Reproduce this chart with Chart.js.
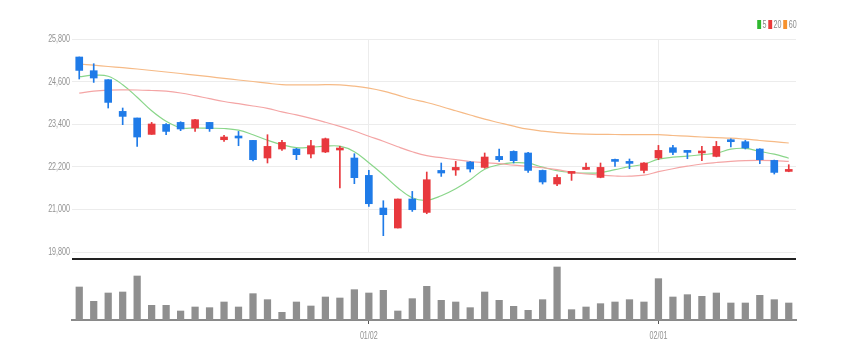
<!DOCTYPE html>
<html>
<head>
<meta charset="utf-8">
<script src="https://cdn.jsdelivr.net/npm/chart.js@4.4.1/dist/chart.umd.min.js"></script>
<style>
  body { margin: 0; background: #fff; }
  #wrap { position: relative; width: 846px; height: 360px; overflow: hidden; }
  #priceBox { position: absolute; left: 0; top: 0; width: 846px; height: 262px; }
  #volBox { position: absolute; left: 0; top: 256px; width: 846px; height: 104px; }
  #divider { position: absolute; left: 72px; top: 258px; width: 724px; height: 2px; background: #222; }
  #legend {
    position: absolute; right: 49px; top: 18px; white-space: nowrap;
    font: 11px 'Liberation Sans', sans-serif; color: #8a8a8a;
    transform: scaleX(0.65); transform-origin: right center;
  }
  #legend .sw { display: inline-block; width: 6px; height: 9px; margin: 0 2px 0 3px; vertical-align: -1px; }
</style>
</head>
<body>
<div id="wrap">
  <div id="priceBox"><canvas id="priceChart"></canvas></div>
  <div id="divider"></div>
  <div id="volBox"><canvas id="volChart"></canvas></div>
  <div id="legend"><span class="sw" style="background:#2fb82f"></span>5<span class="sw" style="background:#ea3a3a"></span>20<span class="sw" style="background:#f7922e"></span>60</div>
</div>
<script>
// trading days 2022-12-02 .. 2023-02-14
const labels = [
  "12/02", "12/05", "12/06", "12/07", "12/08", "12/09", "12/12", "12/13", "12/14", "12/15",
  "12/16", "12/19", "12/20", "12/21", "12/22", "12/23", "12/26", "12/27", "12/28", "12/29",
  "01/02", "01/03", "01/04", "01/05", "01/06", "01/09", "01/10", "01/11", "01/12", "01/13",
  "01/16", "01/17", "01/18", "01/19", "01/20", "01/25", "01/26", "01/27", "01/30", "01/31",
  "02/01", "02/02", "02/03", "02/06", "02/07", "02/08", "02/09", "02/10", "02/13", "02/14"
];

const openP = [
  25293, 24907, 24654, 23761, 23575, 23113, 23394, 23451, 23293, 23451,
  22963, 23056, 22944, 22448, 22701, 22701, 22560, 22617, 22673, 22448,
  21958, 21039, 20476, 21293, 20915, 22098, 22110, 22335, 22183, 22493,
  22634, 22589, 22098, 21715, 22014, 22127, 21901, 22400, 22335, 22098,
  22448, 22738, 22662, 22589, 22493, 22944, 22907, 22701, 22380, 22070
];
const highP = [
  25293, 25104, 24654, 23856, 23575, 23451, 23414, 23470, 23540, 23451,
  23084, 23197, 22944, 23104, 22944, 22720, 22944, 23010, 22775, 22569,
  22098, 21245, 21293, 21507, 22053, 22307, 22352, 22350, 22589, 22701,
  22650, 22605, 22110, 21977, 22050, 22307, 22307, 22420, 22420, 22320,
  22803, 22803, 22662, 22775, 22915, 22991, 22944, 22710, 22390, 22259
];
const lowP = [
  24673, 24577, 23856, 23386, 22775, 23113, 23104, 23217, 23197, 23197,
  22915, 22794, 22363, 22307, 22662, 22400, 22448, 22600, 21603, 21724,
  21084, 20260, 20476, 20943, 20878, 21929, 21958, 22053, 22160, 22352,
  22307, 22042, 21715, 21667, 21817, 22120, 21890, 22211, 22146, 22025,
  22400, 22541, 22428, 22372, 22480, 22758, 22701, 22287, 21996, 22060
];
const closeP = [
  24915, 24701, 24014, 23620, 23039, 23406, 23197, 23265, 23527, 23273,
  23039, 23011, 22400, 22775, 22887, 22541, 22794, 22991, 22710, 21893,
  21160, 20851, 21293, 20991, 21836, 22025, 22183, 22138, 22476, 22400,
  22372, 22098, 21772, 21901, 22042, 22166, 22183, 22352, 22296, 22307,
  22662, 22606, 22606, 22625, 22775, 22907, 22730, 22400, 22042, 22118
];

// moving averages as shown on the chart
const ma5 = [
  24738, 24780, 24752, 24513, 24160, 23780, 23484, 23301, 23293, 23287,
  23279, 23231, 23104, 22949, 22822, 22738, 22752, 22780, 22780, 22625,
  22315, 21977, 21611, 21329, 21259, 21386, 21583, 21836, 22132, 22259,
  22315, 22301, 22189, 22090, 22039, 22020, 22034, 22118, 22203, 22273,
  22414, 22470, 22499, 22541, 22583, 22696, 22718, 22634, 22555, 22442
];
const ma20 = [
  24273, 24330, 24358, 24366, 24363, 24349, 24330, 24279, 24203, 24118,
  24039, 23977, 23913, 23848, 23746, 23662, 23566, 23456, 23338, 23208,
  23062, 22921, 22766, 22625, 22513, 22456, 22400, 22349, 22315, 22287,
  22245, 22211, 22174, 22118, 22048, 21997, 21963, 21941, 21935, 21963,
  22062, 22146, 22217, 22279, 22321, 22355, 22375, 22380, 22372, 22352
];
const ma60 = [
  25096, 25062, 25025, 24991, 24955, 24913, 24870, 24828, 24783, 24738,
  24690, 24645, 24603, 24555, 24513, 24507, 24507, 24513, 24507, 24470,
  24414, 24330, 24217, 24104, 24011, 23899, 23780, 23659, 23541, 23442,
  23344, 23259, 23203, 23160, 23132, 23118, 23113, 23110, 23104, 23104,
  23104, 23082, 23062, 23039, 23020, 23006, 22977, 22941, 22907, 22870
];

const volume = [
  200000, 114000, 164000, 170000, 266000, 90000, 90000, 56000, 80000, 76000,
  110000, 80000, 160000, 124000, 48000, 110000, 86000, 140000, 134000, 184000,
  164000, 180000, 56000, 130000, 204000, 120000, 110000, 76000, 170000, 120000,
  84000, 60000, 124000, 320000, 64000, 80000, 100000, 110000, 124000, 110000,
  250000, 140000, 154000, 144000, 164000, 104000, 104000, 150000, 124000, 104000
];

const priceTicks = [19800, 21000, 22200, 23400, 24600, 25800];

const UP = "#e8383d";
const DOWN = "#1f7be8";
const candleColor = openP.map((o, i) => closeP[i] >= o ? UP : DOWN);
const isMonthStart = i => i > 0 && labels[i].slice(0, 2) !== labels[i - 1].slice(0, 2);

// the reference uses a narrow face for axis text, so labels are drawn squeezed
function narrowText(ctx, text, x, y, align) {
  ctx.save();
  ctx.font = "11px 'Liberation Sans', sans-serif";
  ctx.fillStyle = "#929292";
  ctx.textAlign = align;
  ctx.textBaseline = "middle";
  ctx.translate(x, y);
  ctx.scale(0.65, 1);
  ctx.fillText(text, 0, 0);
  ctx.restore();
}

const priceLabels = {
  id: "priceLabels",
  afterDraw(chart) {
    const y = chart.scales.y;
    priceTicks.forEach(v => narrowText(chart.ctx, v.toLocaleString("en-US"), 70, y.getPixelForValue(v), "right"));
  }
};

const dateLabels = {
  id: "dateLabels",
  afterDraw(chart) {
    const x = chart.scales.x;
    labels.forEach((l, i) => {
      if (isMonthStart(i)) narrowText(chart.ctx, l, x.getPixelForValue(i), chart.chartArea.bottom + 16, "center");
    });
  }
};

new Chart(document.getElementById("priceChart"), {
  type: "bar",
  data: {
    labels: labels,
    datasets: [
      { type: "line", label: "60", data: ma60, borderColor: "#f6ba86", borderWidth: 1.2, pointRadius: 0, tension: 0.4, order: 3 },
      { type: "line", label: "20", data: ma20, borderColor: "#f4a5a5", borderWidth: 1.2, pointRadius: 0, tension: 0.4, order: 3 },
      { type: "line", label: "5", data: ma5, borderColor: "#8ad68a", borderWidth: 1.2, pointRadius: 0, tension: 0.4, order: 3 },
      {
        label: "wick",
        data: labels.map((_, i) => [lowP[i], highP[i]]),
        backgroundColor: candleColor,
        barThickness: 1,
        grouped: false,
        order: 2
      },
      {
        label: "body",
        data: labels.map((_, i) => [openP[i], closeP[i]]),
        backgroundColor: candleColor,
        barThickness: 7,
        minBarLength: 2,
        grouped: false,
        order: 1
      }
    ]
  },
  options: {
    responsive: true,
    maintainAspectRatio: false,
    animation: false,
    layout: { padding: { top: 39, right: 50, left: 0, bottom: 0 } },
    plugins: { legend: { display: false }, tooltip: { enabled: false } },
    scales: {
      x: {
        offset: true,
        ticks: { display: false },
        border: { display: false },
        grid: {
          offset: false,
          drawTicks: false,
          color: ctx => isMonthStart(ctx.index) ? "#ececec" : "rgba(0,0,0,0)"
        },
        afterFit: scale => { scale.height = 10; }
      },
      y: {
        min: 19800,
        max: 25800,
        afterBuildTicks: scale => { scale.ticks = priceTicks.map(v => ({ value: v })); },
        ticks: { display: false },
        border: { display: false },
        grid: { color: "#ececec", drawTicks: false },
        afterFit: scale => { scale.width = 72; }
      }
    }
  },
  plugins: [priceLabels]
});

new Chart(document.getElementById("volChart"), {
  type: "bar",
  data: {
    labels: labels,
    datasets: [{
      label: "volume",
      data: volume,
      backgroundColor: "#8f8f8f",
      barPercentage: 0.5,
      categoryPercentage: 1
    }]
  },
  options: {
    responsive: true,
    maintainAspectRatio: false,
    animation: false,
    layout: { padding: { top: 4, right: 50, left: 0, bottom: 0 } },
    plugins: { legend: { display: false }, tooltip: { enabled: false } },
    scales: {
      x: {
        offset: true,
        border: { display: true, color: "#8a8a8a", width: 2 },
        grid: {
          offset: false,
          drawOnChartArea: false,
          drawTicks: true,
          tickLength: 4,
          tickColor: ctx => isMonthStart(ctx.index) ? "#555" : "rgba(0,0,0,0)"
        },
        ticks: { display: false },
        afterFit: scale => { scale.height = 40; }
      },
      y: {
        min: 0,
        max: 360000,
        ticks: { display: false },
        border: { display: false },
        grid: { display: false },
        afterFit: scale => { scale.width = 72; }
      }
    }
  },
  plugins: [dateLabels]
});
</script>
</body>
</html>
